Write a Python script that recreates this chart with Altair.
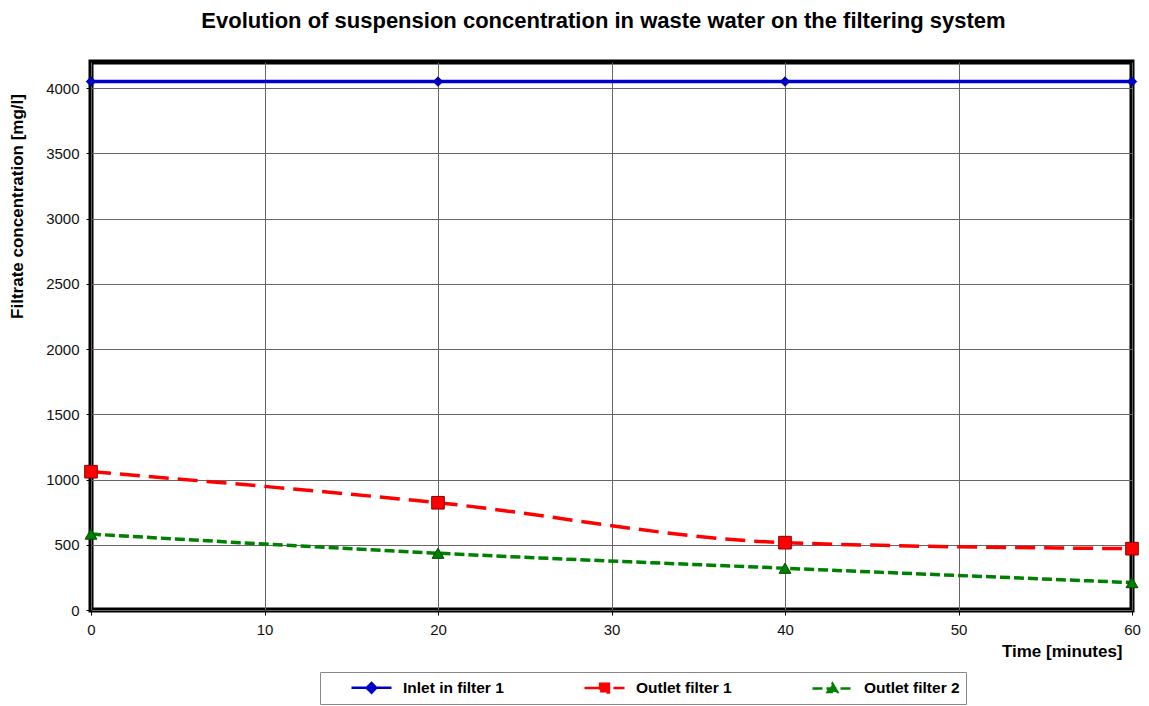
import altair as alt
import pandas as pd

times = [0, 20, 40, 60]
inlet = [4050, 4050, 4050, 4050]
outlet1 = [1060, 822, 516, 470]
outlet2 = [582, 435, 320, 210]
series = ["Inlet in filter 1", "Outlet filter 1", "Outlet filter 2"]
colors = ["#0000CC", "#FF0000", "#008000"]
legend_strokes = ["#00008B", "#E00000", "#007000"]
edge_colors = ["#00008B", "#8B0000", "#004d00"]
shapes = ["diamond", "square", "triangle-up"]
legend_shapes = [
    "M2,0H7M4.5,-0.6L5.1,0L4.5,0.6L3.9,0Z",
    "M2,0H7M3.95,-0.55H5.05V0.55H3.95Z",
    "M2,0H7M4.5,-0.6L5.1,0.45H3.9Z",
]
sizes = [90, 160, 140]
dashes = [[1, 0], [20, 9], [10, 4]]

rows = []
for name, vals in zip(series, [inlet, outlet1, outlet2]):
    for t, v in zip(times, vals):
        rows.append({"Series": name, "Time": t, "Value": v})
df = pd.DataFrame(rows)

FONT = "Liberation Sans"

x = alt.X("Time:Q", scale=alt.Scale(domain=[0, 60], nice=False),
          axis=alt.Axis(values=[0, 10, 20, 30, 40, 50, 60], title="Time [minutes]",
                        labelFlush=False,
                        titleAnchor="end", titleAlign="right", titleX=1031, titleY=41,
                        titleBaseline="middle"))
y = alt.Y("Value:Q", scale=alt.Scale(domain=[0, 4200], nice=False),
          axis=alt.Axis(values=[0, 500, 1000, 1500, 2000, 2500, 3000, 3500, 4000],
                        format="d", labelFlush=False,
                        title="Filtrate concentration [mg/l]",
                        titleX=-74, titleY=144, titleAngle=270, titleAlign="center",
                        titleBaseline="middle"))

color_scale = alt.Scale(domain=series, range=colors)
dash_scale = alt.Scale(domain=series, range=dashes)

legend = alt.Legend(
    orient="none", legendX=229, legendY=610, direction="horizontal", columns=3,
    title=None, symbolSize=256, symbolStrokeWidth=2.5, symbolOpacity=1,
    labelFont=FONT, labelFontSize=15.5, labelFontWeight="bold", labelColor="#000",
    labelOffset=58, columnPadding=55, padding=6, strokeColor="#888",
)

lines = alt.Chart(df).mark_line(interpolate="monotone", strokeWidth=3.5).encode(
    x=x, y=y,
    color=alt.Color("Series:N", scale=color_scale, legend=legend),
    strokeDash=alt.StrokeDash("Series:N", scale=dash_scale, legend=legend),
)

point_layers = []
for i, name in enumerate(series):
    point_layers.append(
        alt.Chart(df).transform_filter(alt.datum.Series == name).mark_point(
            shape=shapes[i], size=sizes[i], filled=True, opacity=1,
            fill=colors[i], stroke=edge_colors[i], strokeWidth=1,
        ).encode(x=x, y=y)
    )

legend_layer = alt.Chart(df).transform_filter("false").mark_point(
    filled=True, opacity=1, strokeWidth=2.5
).encode(
    x=x, y=y,
    color=alt.Color("Series:N", scale=color_scale, legend=legend),
    stroke=alt.Stroke("Series:N", scale=alt.Scale(domain=series, range=legend_strokes), legend=legend),
    shape=alt.Shape("Series:N", scale=alt.Scale(domain=series, range=legend_shapes), legend=legend),
    strokeDash=alt.StrokeDash("Series:N", scale=dash_scale, legend=legend),
)

chart = alt.layer(lines, *point_layers, legend_layer).properties(
    width=1041, height=548,
    autosize="none",
    padding={"left": 83, "top": 54, "right": 9, "bottom": 96},
    title=alt.TitleParams("Evolution of suspension concentration in waste water on the filtering system",
                          font=FONT, fontSize=22, fontWeight="bold", color="#000",
                          anchor="middle", dx=-8, offset=29),
).configure_view(
    stroke="#000", strokeWidth=5
).configure_axis(
    domain=False, grid=True, gridColor="#666", gridWidth=1,
    tickColor="#000", tickSize=5, tickWidth=1,
    labelFont=FONT, labelFontSize=15, labelColor="#111", labelPadding=7,
    titleFont=FONT, titleFontSize=17, titleFontWeight="bold", titleColor="#000",
).configure_axisY(labelPadding=7)

chart.save("out.html", embed_options={"renderer": "svg", "actions": False})
